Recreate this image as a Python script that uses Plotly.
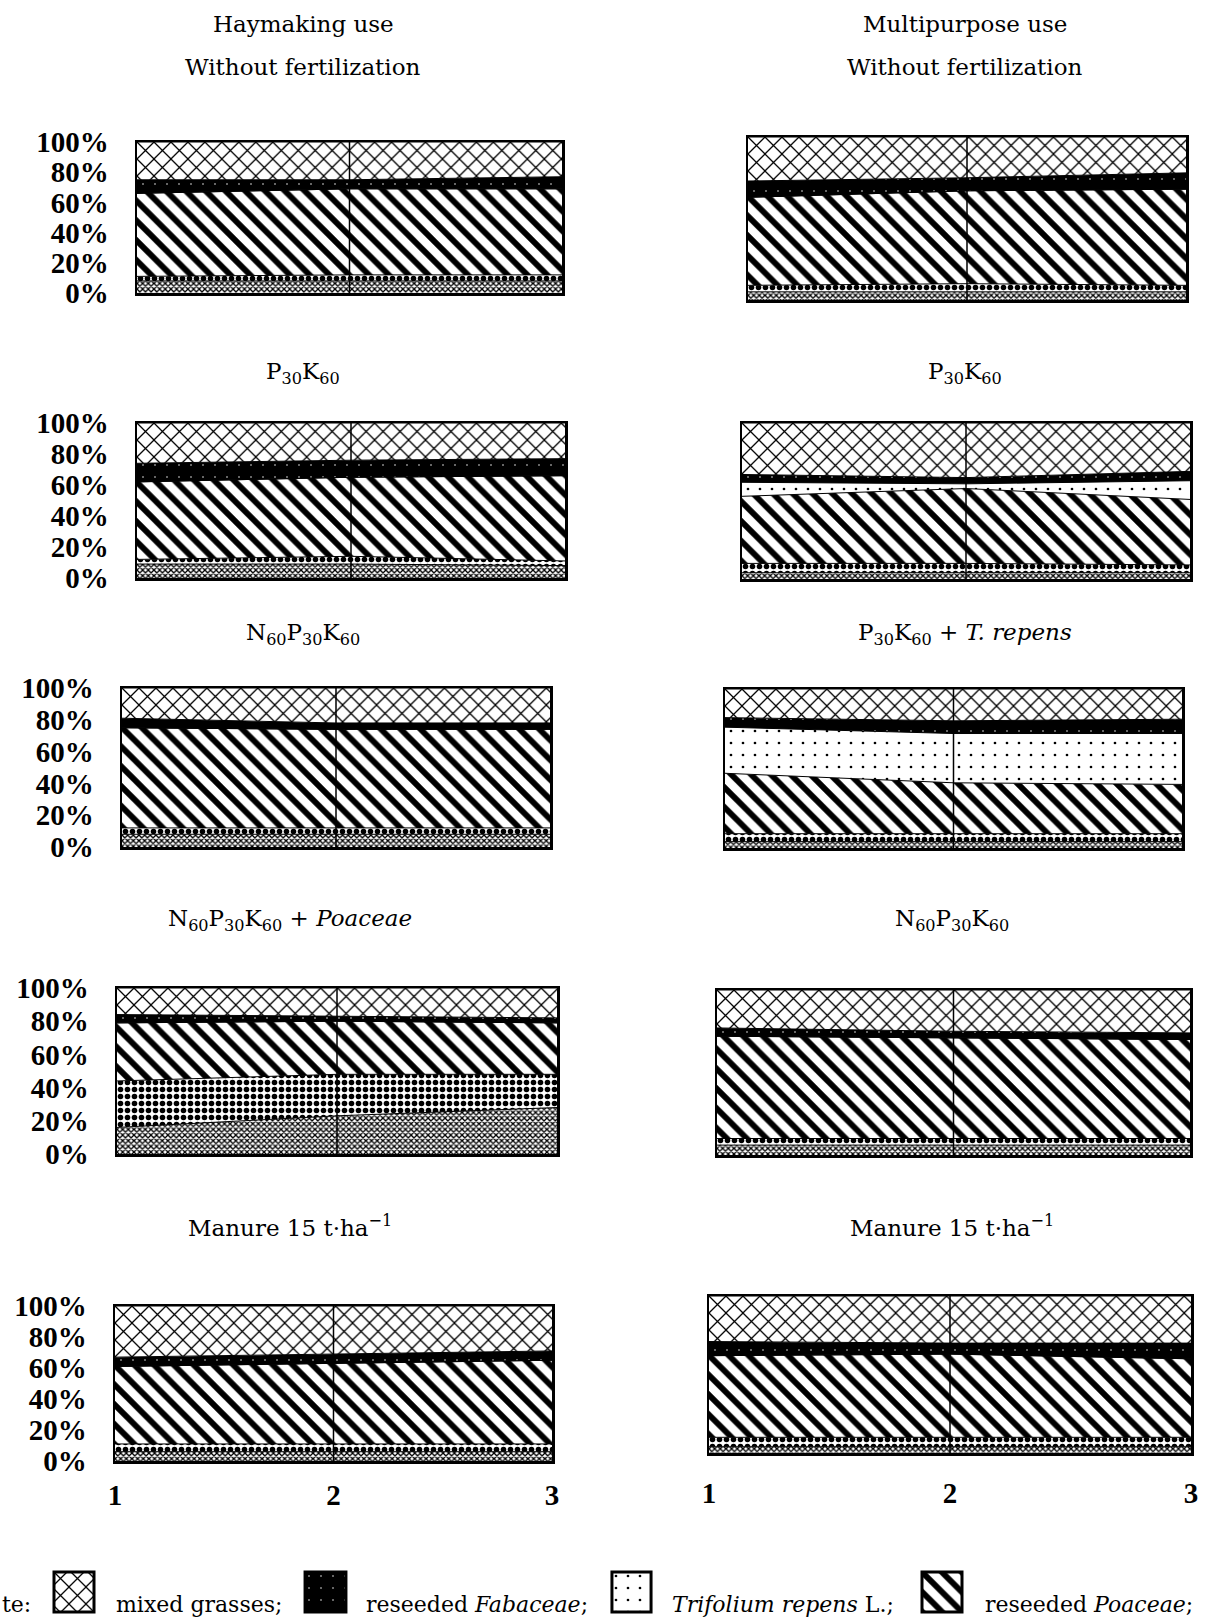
import plotly.graph_objects as go

W, H = 1207, 1622

# ---------------- data ----------------
years = [1, 2, 3]
year_labels = ["1", "2", "3"]
pct_ticks = [0, 20, 40, 60, 80, 100]
pct_labels = ["0%", "20%", "40%", "60%", "80%", "100%"]

column_headers = ["Haymaking use", "Multipurpose use"]
panel_titles = [
    "Without fertilization", "Without fertilization",
    "P<sub>30</sub>K<sub>60</sub>", "P<sub>30</sub>K<sub>60</sub>",
    "N<sub>60</sub>P<sub>30</sub>K<sub>60</sub>", "P<sub>30</sub>K<sub>60</sub> + <i>T. repens</i>",
    "N<sub>60</sub>P<sub>30</sub>K<sub>60</sub> + <i>Poaceae</i>", "N<sub>60</sub>P<sub>30</sub>K<sub>60</sub>",
    "Manure 15 t·ha<sup>−1</sup>", "Manure 15 t·ha<sup>−1</sup>",
]

# shares (%) per panel, years 1..3 (bottom -> top)
other_group_a = [[8, 8, 8], [5, 5, 5], [9, 9, 8], [4, 4, 4], [8, 8, 8],
                 [4, 4, 4], [16, 23, 28], [6, 6, 6], [6, 6, 6], [4, 4, 4]]
other_group_b = [[3, 4, 4], [4, 5, 4], [3, 5, 3], [6, 6, 5], [4, 4, 4],
                 [5, 5, 5], [28, 25, 20], [4, 4, 4], [5, 5, 5], [6, 6, 6]]
reseeded_poaceae = [[55, 57, 57], [54, 57, 59], [50, 51, 55], [43, 48, 42], [63, 62, 62],
                    [38, 32, 31], [35, 32, 31], [62, 61, 60], [50, 52, 54], [52, 53, 50]]
trifolium_repens = [[0, 0, 0], [0, 0, 0], [0, 0, 0], [9, 3, 12], [0, 0, 0],
                    [29, 31, 32], [0, 0, 0], [0, 0, 0], [0, 0, 0], [0, 0, 0]]
reseeded_fabaceae = [[9, 6, 8], [10, 8, 10], [12, 11, 11], [5, 4, 6], [6, 4, 4],
                     [6, 8, 9], [5, 3, 3], [5, 4, 4], [6, 6, 6], [9, 7, 10]]
mixed_grasses = [[25, 25, 23], [27, 25, 22], [26, 24, 23], [33, 35, 31], [19, 22, 22],
                 [18, 20, 19], [16, 17, 18], [23, 25, 26], [33, 31, 29], [29, 30, 30]]

legend_names = ["mixed grasses;", "reseeded <i>Fabaceae</i>;",
                "<i>Trifolium repens</i> L.;", "reseeded <i>Poaceae</i>;"]

# ---------------- styles / layout ----------------
styles = {
    "a": dict(shape="x", size=4, solidity=0.55, fg="black", bg="white"),
    "b": dict(shape=".", size=7, solidity=0.5, fg="black", bg="white"),
    "poa": dict(shape="\\", size=14, solidity=0.42, fg="black", bg="white"),
    "tri": dict(shape=".", size=12, solidity=0.04, fg="black", bg="white"),
    "fab": dict(shape=".", size=12, solidity=0.012, fg="white", bg="black"),
    "mix": dict(shape="x", size=12, solidity=0.2, fg="black", bg="white"),
}

# panel boxes in px: x0, x1, y0, y1
boxes = [
    (137, 562, 142, 293), (748, 1186, 137, 300),
    (137, 565, 423, 578), (742, 1190, 423, 579),
    (122, 550, 688, 847), (725, 1182, 689, 848),
    (117, 557, 988, 1154), (717, 1190, 990, 1155),
    (115, 552, 1306, 1461), (709, 1191, 1296, 1453),
]
title_pos = [(303, 67), (965, 67), (303, 373), (965, 373), (303, 634), (965, 634),
             (290, 920), (952, 920), (290, 1226), (952, 1226)]
header_pos = [(303, 24), (965, 24)]

serif = "DejaVu Serif"
tick_font = dict(family="Liberation Serif", size=29, color="black", weight="bold")
title_font = dict(family=serif, size=23, color="black")
legend_font = dict(family=serif, size=22, color="black")


def pattern(st):
    return dict(shape=st["shape"], size=st["size"], solidity=st["solidity"],
                fgcolor=st["fg"], bgcolor=st["bg"], fillmode="replace")


fig = go.Figure()
layout = dict(template="none", width=W, height=H, autosize=False,
              margin=dict(l=0, r=0, t=0, b=0, pad=0, autoexpand=False),
              paper_bgcolor="white", plot_bgcolor="white", showlegend=False)
shapes = []
annotations = []

layer_sets = [
    ("other A", other_group_a, "a"),
    ("other B", other_group_b, "b"),
    ("reseeded Poaceae", reseeded_poaceae, "poa"),
    ("Trifolium repens L.", trifolium_repens, "tri"),
    ("reseeded Fabaceae", reseeded_fabaceae, "fab"),
    ("mixed grasses", mixed_grasses, "mix"),
]

for i in range(10):
    n = i + 1
    xa = "x" if n == 1 else f"x{n}"
    ya = "y" if n == 1 else f"y{n}"
    x0, x1, y0, y1 = boxes[i]
    for name, arr, key in layer_sets:
        st = styles[key]
        fig.add_trace(go.Scatter(
            x=years, y=arr[i], mode="lines", stackgroup=f"g{n}", name=name,
            line=dict(color="black", width=1), fillcolor=st["bg"],
            fillpattern=pattern(st), xaxis=xa, yaxis=ya, hoverinfo="skip"))
    left = (i % 2 == 0)
    bottom = (i >= 8)
    layout["xaxis" if n == 1 else f"xaxis{n}"] = dict(
        domain=[x0 / W, x1 / W], range=[years[0], years[-1]], anchor=ya,
        showgrid=False, zeroline=False, showline=True, mirror=True, automargin=False,
        linecolor="black", linewidth=2.5, ticks="", tickvals=years, ticktext=year_labels,
        showticklabels=bottom, tickfont=tick_font,
        ticklabelstandoff=(7 if left else 13), fixedrange=True)
    layout["yaxis" if n == 1 else f"yaxis{n}"] = dict(
        domain=[1 - y1 / H, 1 - y0 / H], range=[0, 100], anchor=xa, automargin=False,
        showgrid=False, zeroline=False, showline=True, mirror=True,
        linecolor="black", linewidth=2.5, ticks="", tickvals=pct_ticks, ticktext=pct_labels,
        showticklabels=left, tickfont=tick_font, ticklabelstandoff=20, fixedrange=True)
    shapes.append(dict(type="line", xref=xa, yref=f"{ya} domain", x0=years[1], x1=years[1],
                       y0=0, y1=1, line=dict(color="black", width=1.5), layer="above"))
    tx, ty = title_pos[i]
    annotations.append(dict(text=panel_titles[i], x=tx / W, y=1 - ty / H, xref="paper", yref="paper",
                            showarrow=False, xanchor="center", yanchor="middle", font=title_font))

for (hx, hy), txt in zip(header_pos, column_headers):
    annotations.append(dict(text=txt, x=hx / W, y=1 - hy / H, xref="paper", yref="paper",
                            showarrow=False, xanchor="center", yanchor="middle", font=title_font))

# ---------------- legend (bottom, partially cut off) ----------------
swatch_keys = ["mix", "fab", "tri", "poa"]
swatch_x = [(52, 96), (303, 348), (610, 653), (920, 964)]
text_x = [114, 364, 670, 983]
sw_y0, sw_y1 = 1570, 1614
text_y = 1604
annotations.append(dict(text="te:", x=0, y=1 - text_y / H, xref="paper", yref="paper",
                        showarrow=False, xanchor="left", yanchor="middle", font=legend_font))
for k in range(4):
    n = 11 + k
    sx0, sx1 = swatch_x[k]
    st = styles[swatch_keys[k]]
    fig.add_trace(go.Bar(x=[0], y=[1], width=[1], xaxis=f"x{n}", yaxis=f"y{n}",
                         marker=dict(color=st["bg"], pattern=pattern(st),
                                     line=dict(color="black", width=3)),
                         hoverinfo="skip"))
    layout[f"xaxis{n}"] = dict(domain=[sx0 / W, sx1 / W], range=[-0.55, 0.55], anchor=f"y{n}",
                               visible=False, fixedrange=True, automargin=False)
    layout[f"yaxis{n}"] = dict(domain=[1 - sw_y1 / H, 1 - sw_y0 / H], range=[-0.05, 1.05],
                               anchor=f"x{n}", visible=False, fixedrange=True, automargin=False)
    annotations.append(dict(text=legend_names[k], x=text_x[k] / W, y=1 - text_y / H,
                            xref="paper", yref="paper", showarrow=False, xanchor="left",
                            yanchor="middle", font=legend_font))

layout["shapes"] = shapes
layout["annotations"] = annotations
fig.update_layout(**layout)
fig.write_html("out.html", config={"displayModeBar": False, "staticPlot": True},
               post_script="document.body.style.margin='0px';")
